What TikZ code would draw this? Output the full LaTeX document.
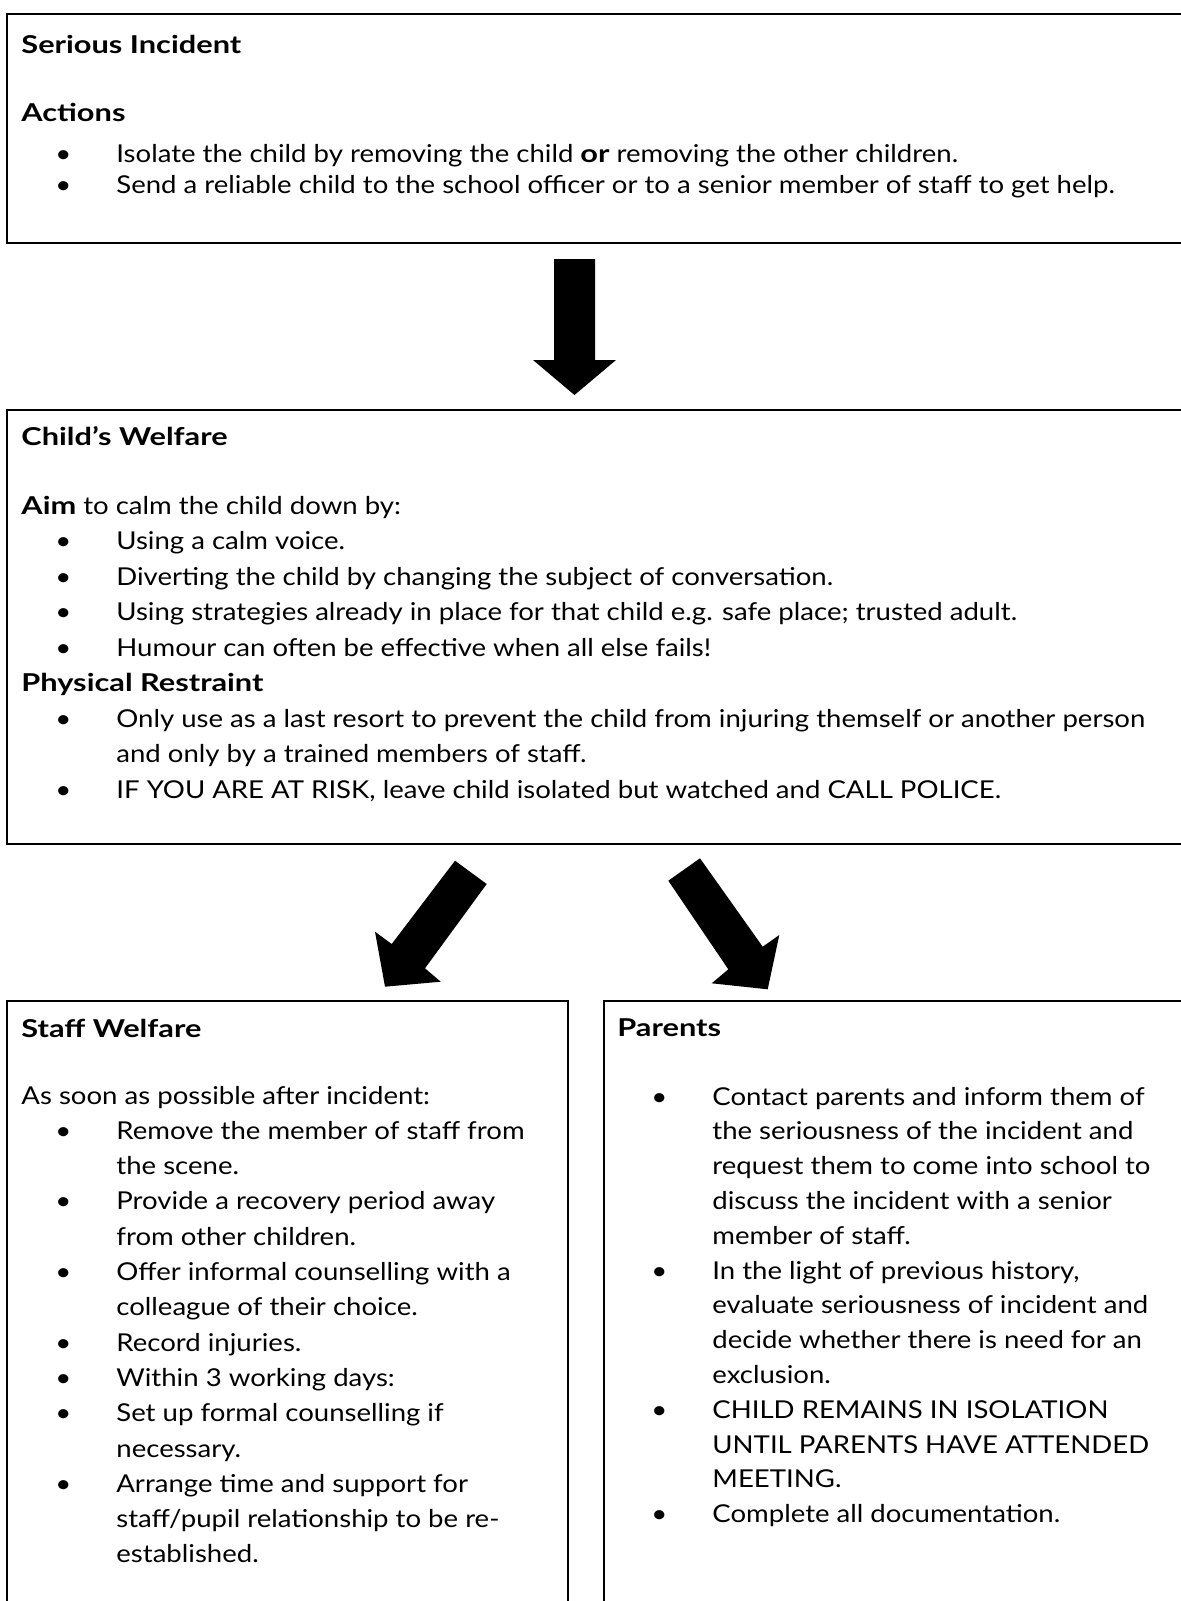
\documentclass[tikz,border=0pt]{standalone}
\usepackage{fontspec}
\setmainfont{Lato}[FakeStretch=1.12, BoldFeatures={FakeStretch=1.25}]
\usetikzlibrary{calc}

\newcommand{\bitem}{\makebox[47.5pt][l]{\hspace*{17pt}\textbullet}}
\newcommand{\bcont}{\hspace*{47.5pt}}

\begin{document}
\begin{tikzpicture}[x=0.5pt, y=-0.5pt,
    panel/.style={draw=black, line width=1pt, anchor=north west, inner sep=0pt},
    heading/.style={anchor=base west, inner sep=0pt, font=\fontsize{\fsize}{\fsize}\selectfont\bfseries},
    bodytext/.style={anchor=base west, inner sep=0pt, font=\fontsize{\fsize}{#1}\selectfont},
    blockarrow/.style={fill=black, draw=none}]

    \def \fsize{12.3};

    \useasboundingbox (0,0) rectangle (1181,1601);
    \clip (0,0) rectangle (1181,1601);

    \node[panel, minimum width=595pt, minimum height=114.5pt] (incident) at (5.5,13) {};
    \node[panel, minimum width=595pt, minimum height=217pt] (childwelfare) at (5.5,409) {};
    \node[panel, minimum width=280.5pt, minimum height=320pt] (staffwelfare) at (5.5,1000) {};
    \node[panel, minimum width=300pt, minimum height=320pt] (parents) at (602.5,1000) {};

    \node[heading] (incidentTitle) at (21,53.5) {Serious Incident};
    \node[bodytext=15.5pt] (incidentText) at (21,121) {\begin{tabular}[t]{@{}l@{}}
        \textbf{Actions}\\[5pt]
        \bitem Isolate the child by removing the child \textbf{or} removing the other children.\\
        \bitem Send a reliable child to the school officer or to a senior member of staff to get help.
    \end{tabular}};

    \node[heading] (childTitle) at (21,445) {Child’s Welfare};
    \node[bodytext=17.75pt] (childText) at (21,514) {\begin{tabular}[t]{@{}l@{}}
        \textbf{Aim} to calm the child down by:\\
        \bitem Using a calm voice.\\
        \bitem Diverting the child by changing the subject of conversation.\\
        \bitem Using strategies already in place for that child e.g. safe place; trusted adult.\\
        \bitem Humour can often be effective when all else fails!\\
        \textbf{Physical Restraint}\\
        \bitem Only use as a last resort to prevent the child from injuring themself or another person\\
        \bcont and only by a trained members of staff.\\
        \bitem IF YOU ARE AT RISK, leave child isolated but watched and CALL POLICE.
    \end{tabular}};

    \node[heading] (staffTitle) at (21,1037) {Staff Welfare};
    \node[bodytext=17.65pt] (staffText) at (21,1104) {\begin{tabular}[t]{@{}l@{}}
        As soon as possible after incident:\\
        \bitem Remove the member of staff from\\
        \bcont the scene.\\
        \bitem Provide a recovery period away\\
        \bcont from other children.\\
        \bitem Offer informal counselling with a\\
        \bcont colleague of their choice.\\
        \bitem Record injuries.\\
        \bitem Within 3 working days:\\
        \bitem Set up formal counselling if\\
        \bcont necessary.\\
        \bitem Arrange time and support for\\
        \bcont staff/pupil relationship to be re-\\
        \bcont established.
    \end{tabular}};

    \node[heading] (parentsTitle) at (617,1036) {Parents};
    \node[bodytext=17.4pt] (parentsText) at (617,1105) {\begin{tabular}[t]{@{}l@{}}
        \bitem Contact parents and inform them of\\
        \bcont the seriousness of the incident and\\
        \bcont request them to come into school to\\
        \bcont discuss the incident with a senior\\
        \bcont member of staff.\\
        \bitem In the light of previous history,\\
        \bcont evaluate seriousness of incident and\\
        \bcont decide whether there is need for an\\
        \bcont exclusion.\\
        \bitem CHILD REMAINS IN ISOLATION\\
        \bcont UNTIL PARENTS HAVE ATTENDED\\
        \bcont MEETING.\\
        \bitem Complete all documentation.
    \end{tabular}};

    \fill[blockarrow] (554,259) -- (595,259) -- (595,360) -- (616,360) -- (574.5,395) -- (533,360) -- (554,360) -- cycle;

    \fill[blockarrow] (455,860.7) -- (486.7,884) -- (425,968.3) -- (440.7,981.7) -- (385,986.7) -- (375,931.7) -- (391.7,944) -- cycle;

    \fill[blockarrow] (668.3,880.7) -- (700,858.3) -- (762.7,946.7) -- (779.3,935) -- (767.7,989.3) -- (711.7,983.3) -- (728.3,969.3) -- cycle;

\end{tikzpicture}
\end{document}
